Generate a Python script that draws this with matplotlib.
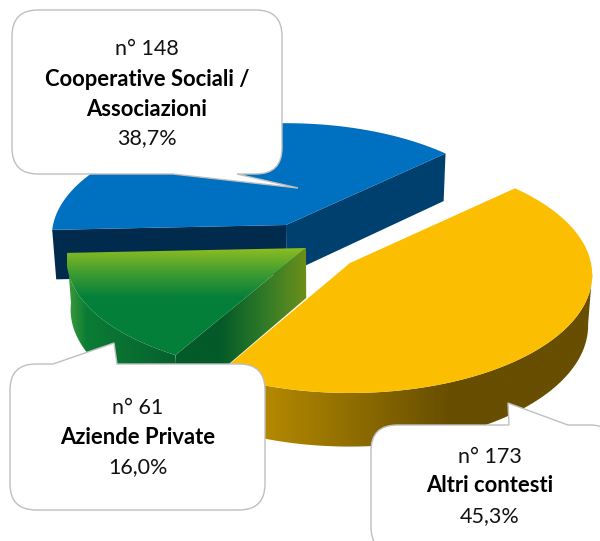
import numpy as np
import matplotlib
matplotlib.use("Agg")
import matplotlib.pyplot as plt
from matplotlib.path import Path
from matplotlib.patches import PathPatch, Polygon
from matplotlib.colors import LinearSegmentedColormap

categories = ["Cooperative Sociali /\nAssociazioni", "Aziende Private", "Altri contesti"]
counts = [148, 61, 173]
percent_labels = ["38,7%", "16,0%", "45,3%"]

PERSP = 0.10
START = 43  # where the yellow slice begins, going clockwise

plt.rcParams['font.family'] = ['Lato', 'DejaVu Sans']

fig = plt.figure(figsize=(6.0, 5.41), dpi=100)
ax = fig.add_axes([0, 0, 1, 1])


def arc_points(apex, radii, t0, t1, n=80):
    # circle seen in perspective, far side gets squeezed
    t = np.radians(np.linspace(t0, t1, n))
    w = 1 + PERSP * np.sin(t)
    return np.column_stack([apex[0] + radii[0] * np.cos(t) / w, apex[1] - radii[1] * np.sin(t) / w])


def lower(pts):
    # same points on the underside of the slab
    out = np.array(pts, dtype=float)
    thick = 50 + (out[:, 1] - 250) * 0.025
    out[:, 0] = 320 + (out[:, 0] - 320) * 0.985
    out[:, 1] = out[:, 1] + thick
    return out


def side(pts):
    return np.vstack([pts, lower(pts)[::-1]])


def grad_fill(pts, colors, z, horizontal=True, span=None):
    patch = Polygon(pts, closed=True, fc='none', ec='none')
    ax.add_patch(patch)
    x0, x1 = pts[:, 0].min(), pts[:, 0].max()
    y0, y1 = pts[:, 1].min(), pts[:, 1].max()
    cmap = LinearSegmentedColormap.from_list("g", colors)
    if span is None:
        span = (x0, x1) if horizontal else (y0, y1)
    if horizontal:
        g = np.clip((np.linspace(x0, x1, 300) - span[0]) / (span[1] - span[0]), 0, 1).reshape(1, -1)
    else:
        g = np.clip((np.linspace(y0, y1, 300) - span[0]) / (span[1] - span[0]), 0, 1).reshape(-1, 1)
    im = ax.imshow(g, extent=(x0, x1, y1, y0), aspect='auto', cmap=cmap, vmin=0, vmax=1,
                   origin='upper', interpolation='bilinear', zorder=z)
    im.set_clip_path(patch)


def callout(x0, y0, x1, y1, r, base, tip, edge):
    verts = [(x0 + r, y0)]
    codes = [Path.MOVETO]
    if edge == 'top':
        verts += [(base[0], y0), tip, (base[1], y0)]
        codes += [Path.LINETO] * 3
    verts += [(x1 - r, y0), (x1, y0), (x1, y0 + r), (x1, y1 - r), (x1, y1), (x1 - r, y1)]
    codes += [Path.LINETO, Path.CURVE3, Path.CURVE3, Path.LINETO, Path.CURVE3, Path.CURVE3]
    if edge == 'bottom':
        verts += [(base[1], y1), tip, (base[0], y1)]
        codes += [Path.LINETO] * 3
    verts += [(x0 + r, y1), (x0, y1), (x0, y1 - r), (x0, y0 + r), (x0, y0), (x0 + r, y0)]
    codes += [Path.LINETO, Path.CURVE3, Path.CURVE3, Path.LINETO, Path.CURVE3, Path.CURVE3]
    ax.add_patch(PathPatch(Path(verts, codes), fc='white', ec='#BFBFBF', lw=1, zorder=20))


spans = np.array(counts) / sum(counts) * 360
yellow_end = START - spans[2]
green_end = yellow_end - spans[1]
blue_end = green_end - spans[0]

# blue slice
apex = (286, 225)
radii = (233, 112)
arc = arc_points(apex, radii, green_end, blue_end)
ap = np.array([apex], dtype=float)
ax.add_patch(Polygon(side(np.vstack([ap, arc[:1]])), fc='#002B4D', ec='none', zorder=2))
ax.add_patch(Polygon(side(np.vstack([ap, arc[-1:]])), fc='#00406F', ec='none', zorder=2))
ax.add_patch(Polygon(np.vstack([ap, arc]), fc='#0070C0', ec='none', zorder=3))

# yellow slice
apex = (350, 263)
radii = (241, 117)
arc = arc_points(apex, radii, START, yellow_end)
rim = arc_points(apex, radii, -5, yellow_end)
grad_fill(side(rim), ['#B88C00', '#8F6D00', '#674E00'], 4, span=(255, 450))
ax.add_patch(Polygon(np.vstack([[apex], arc]), fc='#FBBE00', ec='none', zorder=5))

# green slice
apex = (306, 248)
radii = (238, 113)
arc = arc_points(apex, radii, yellow_end, green_end)
ap = np.array([apex], dtype=float)
grad_fill(side(arc), ['#3C9A3A', '#0A7C35', '#0A7633', '#097132', '#086C30', '#076630', '#065F2C'], 6, span=(68, 177))
grad_fill(side(np.vstack([ap, arc[:1]])), ['#045A28', '#045A28', '#2F7A28', '#6E8F1A'], 7, span=(177, 306))
grad_fill(np.vstack([ap, arc]), ['#8ABB22', '#3E9C32', '#047F3A'], 8, horizontal=False, span=(250, 298))

# callouts
callout(12, 10, 282, 174, 26, (173, 237), (298, 188), 'bottom')
callout(10, 364, 265, 510, 26, (53, 117), (114, 343), 'top')
callout(371, 425, 616, 553, 26, (509, 568), (508, 403), 'top')

text_pos = [(147, [49, 80, 109, 138]), (138, [408, 438, 467]), (490, [457, 486, 516])]
for cat, n, pct, (x, ys) in zip(categories, counts, percent_labels, text_pos):
    names = cat.split("\n")
    ax.text(x, ys[0], "n° %d" % n, ha='center', va='center', fontsize=15.5, color='#111111', zorder=21)
    for name, y in zip(names, ys[1:]):
        ax.text(x, y, name, ha='center', va='center', fontsize=15.8, fontweight='bold', color='black', zorder=21)
    ax.text(x, ys[-1], pct, ha='center', va='center', fontsize=15.5, color='#111111', zorder=21)

ax.set_xlim(0, 600)
ax.set_ylim(541, 0)
ax.axis('off')
fig.savefig("out.png", dpi=100)
